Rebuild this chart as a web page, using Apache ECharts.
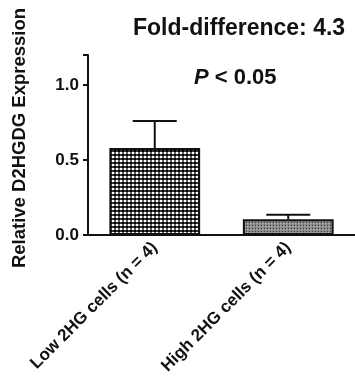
<!DOCTYPE html>
<html>
<head>
<meta charset="utf-8">
<script src="https://cdn.jsdelivr.net/npm/echarts@6/dist/echarts.min.js"></script>
<style>
  html, body { margin: 0; padding: 0; background: #fff; }
  #chart { width: 355px; height: 379px; }
</style>
</head>
<body>
<div id="chart"></div>
<script>
// Relative D2HGDG expression in low vs high 2HG cells (mean + SEM)
const categories = ['Low 2HG cells (n = 4)', 'High 2HG cells (n = 4)'];
const means = [0.58, 0.105];
const sems = [0.18, 0.03];
const yTicks = [0, 0.5, 1.0];
const FONT = 'Liberation Sans, Arial, Helvetica, sans-serif';

// Small tiled canvases used as bar fills
function makePattern(size, bg, cells) {
  const c = document.createElement('canvas');
  c.width = size; c.height = size;
  const ctx = c.getContext('2d');
  ctx.fillStyle = bg;
  ctx.fillRect(0, 0, size, size);
  cells.forEach(function (p) {
    ctx.fillStyle = p[4];
    ctx.fillRect(p[0], p[1], p[2], p[3]);
  });
  return c;
}
const coarseChecker = makePattern(4, '#333', [
  [0, 0, 2, 2, '#fff'],
  [2, 2, 2, 2, '#000'],
  [2, 0, 2, 2, '#5c5c5c']
]);
const fineChecker = makePattern(3, '#8c8c8c', [
  [0, 0, 1, 1, '#333'],
  [1, 1, 1, 1, '#b8b8b8']
]);
const fills = [coarseChecker, fineChecker];

const chart = echarts.init(document.getElementById('chart'), null, { renderer: 'canvas' });

chart.setOption({
  animation: false,
  backgroundColor: '#fff',
  title: {
    text: 'Fold-difference: 4.3',
    left: 128,
    top: 12,
    textStyle: { fontFamily: FONT, fontWeight: 'bold', fontSize: 23, color: '#111' }
  },
  graphic: [
    {
      type: 'text',
      x: 20,
      y: 138,
      rotation: Math.PI / 2,
      style: {
        text: 'Relative D2HGDG Expression',
        font: 'bold 18.5px ' + FONT,
        fill: '#111',
        align: 'center',
        verticalAlign: 'middle'
      }
    },
    {
      type: 'text',
      left: 194,
      top: 67,
      style: {
        text: '{i|P}{n| < 0.05}',
        rich: {
          i: { fontFamily: FONT, fontWeight: 'bold', fontStyle: 'italic', fontSize: 22, fill: '#111' },
          n: { fontFamily: FONT, fontWeight: 'bold', fontSize: 22, fill: '#111' }
        }
      }
    }
  ],
  grid: { left: 88, right: -3, top: 55, bottom: 144, containLabel: false },
  xAxis: {
    type: 'category',
    data: categories,
    axisLine: { lineStyle: { color: '#111', width: 2 } },
    axisTick: { alignWithLabel: true, length: 5, lineStyle: { color: '#111', width: 2 } },
    axisLabel: {
      rotate: 45,
      margin: 10,
      fontFamily: FONT,
      fontWeight: 'bold',
      fontSize: 17,
      color: '#111'
    },
    splitLine: { show: false }
  },
  yAxis: {
    type: 'value',
    min: 0,
    max: 1.2,
    interval: 0.5,
    axisLine: { show: true, lineStyle: { color: '#111', width: 2 } },
    axisTick: { show: true, length: 5, lineStyle: { color: '#111', width: 2 } },
    axisLabel: {
      margin: 9,
      fontFamily: FONT,
      fontWeight: 'bold',
      fontSize: 17,
      color: '#111',
      formatter: function (v) {
        return yTicks.indexOf(v) >= 0 ? v.toFixed(1) : '';
      }
    },
    splitLine: { show: false }
  },
  series: [
    {
      type: 'bar',
      barWidth: '68%',
      data: means.map(function (m, i) {
        return {
          value: m,
          itemStyle: {
            color: { image: fills[i], repeat: 'repeat' },
            borderColor: '#111',
            borderWidth: 2
          }
        };
      })
    },
    {
      type: 'custom',
      z: 5,
      data: means.map(function (m, i) { return [i, m, m + sems[i]]; }),
      renderItem: function (params, api) {
        const base = api.coord([api.value(0), api.value(1)]);
        const top = api.coord([api.value(0), api.value(2)]);
        const half = 22;
        const style = { stroke: '#111', lineWidth: 2 };
        return {
          type: 'group',
          children: [
            { type: 'line', shape: { x1: base[0], y1: base[1], x2: top[0], y2: top[1] }, style: style },
            { type: 'line', shape: { x1: top[0] - half, y1: top[1], x2: top[0] + half, y2: top[1] }, style: style }
          ]
        };
      }
    }
  ]
});
</script>
</body>
</html>
